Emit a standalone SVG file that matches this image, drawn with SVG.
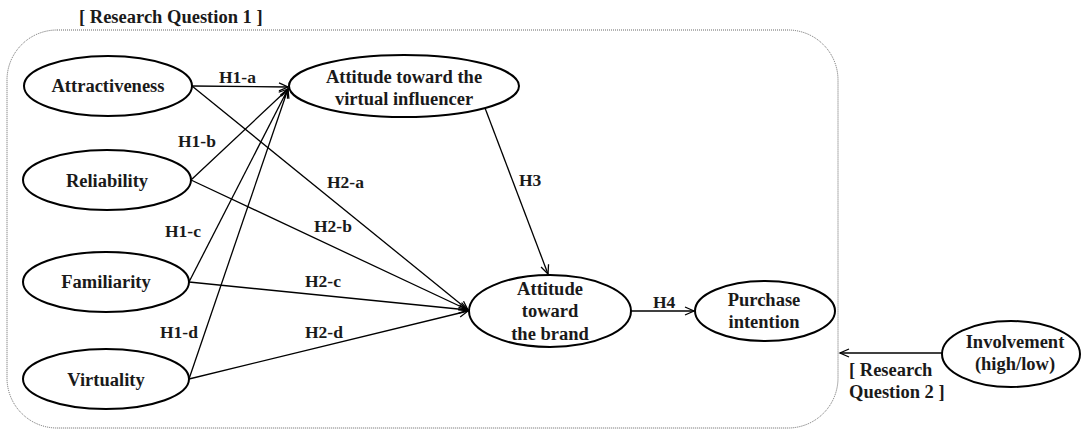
<svg xmlns="http://www.w3.org/2000/svg" width="1083" height="430" viewBox="0 0 1083 430">
<defs>
<marker id="arr" markerWidth="12" markerHeight="12" refX="10" refY="5" orient="auto" markerUnits="userSpaceOnUse">
<path d="M1,1 L10,5 L1,9" fill="none" stroke="#000" stroke-width="1.3"/>
</marker>
<style>
.node ellipse{fill:#fff;stroke:#000;stroke-width:2}
text{font-family:"Liberation Serif","Times New Roman",serif;font-weight:bold;fill:#1a1a1a}
.nt{font-size:18.5px;text-anchor:middle}
.lb{font-size:17.5px}
.conn line{stroke:#000;stroke-width:1.3;fill:none}
.frame{fill:none;stroke:#666;stroke-width:1;stroke-dasharray:1 1}
</style>
</defs>
<rect class="frame" x="7" y="30" width="831" height="398" rx="50" ry="50"/>
<text x="79" y="23" style="font-size:18.5px">[ Research Question 1 ]</text>
<g class="conn">
<line x1="192" y1="86" x2="288" y2="87" marker-end="url(#arr)"/>
<line x1="191" y1="180" x2="288" y2="89" marker-end="url(#arr)"/>
<line x1="189" y1="282" x2="288" y2="89" marker-end="url(#arr)"/>
<line x1="189" y1="379" x2="288" y2="89" marker-end="url(#arr)"/>
<line x1="192" y1="86" x2="468" y2="310" marker-end="url(#arr)"/>
<line x1="191" y1="180" x2="468" y2="310" marker-end="url(#arr)"/>
<line x1="189" y1="282" x2="468" y2="310" marker-end="url(#arr)"/>
<line x1="189" y1="379" x2="468" y2="311" marker-end="url(#arr)"/>
<line x1="485" y1="108" x2="548" y2="274" marker-end="url(#arr)"/>
<line x1="631" y1="311" x2="694" y2="311" marker-end="url(#arr)"/>
<line x1="942" y1="353" x2="840" y2="353" marker-end="url(#arr)"/>
</g>
<g id="labels">
<text class="lb" x="219" y="83">H1-a</text>
<text class="lb" x="178" y="147">H1-b</text>
<text class="lb" x="165" y="237">H1-c</text>
<text class="lb" x="160" y="338">H1-d</text>
<text class="lb" x="327" y="188">H2-a</text>
<text class="lb" x="314" y="232">H2-b</text>
<text class="lb" x="305" y="287">H2-c</text>
<text class="lb" x="305" y="338">H2-d</text>
<text class="lb" x="519" y="186">H3</text>
<text class="lb" x="653" y="308">H4</text>
</g>
<g id="attractiveness" class="node"><ellipse cx="108" cy="86" rx="84" ry="30"/><text class="nt" x="108" y="92">Attractiveness</text></g>
<g id="reliability" class="node"><ellipse cx="107" cy="180" rx="84" ry="30"/><text class="nt" x="107" y="187">Reliability</text></g>
<g id="familiarity" class="node"><ellipse cx="106" cy="282" rx="83" ry="30"/><text class="nt" x="106" y="288">Familiarity</text></g>
<g id="virtuality" class="node"><ellipse cx="106" cy="379" rx="83" ry="30"/><text class="nt" x="106" y="386">Virtuality</text></g>
<g id="att-vi" class="node"><ellipse cx="404" cy="86" rx="115" ry="31"/><text class="nt" x="404" y="83">Attitude toward the</text><text class="nt" x="404" y="105">virtual influencer</text></g>
<g id="att-brand" class="node"><ellipse cx="550" cy="311" rx="81" ry="36"/><text class="nt" x="550" y="295">Attitude</text><text class="nt" x="550" y="317">toward</text><text class="nt" x="550" y="340">the brand</text></g>
<g id="purchase" class="node"><ellipse cx="765" cy="311" rx="70" ry="30"/><text class="nt" x="764" y="306">Purchase</text><text class="nt" x="764" y="328">intention</text></g>
<g id="involvement" class="node"><ellipse cx="1011" cy="354" rx="69" ry="33"/><text class="nt" x="1015" y="348">Involvement</text><text class="nt" x="1015" y="370">(high/low)</text></g>
<text x="849" y="376" style="font-size:18.5px">[ Research</text>
<text x="849" y="398" style="font-size:18.5px">Question 2 ]</text>
</svg>
